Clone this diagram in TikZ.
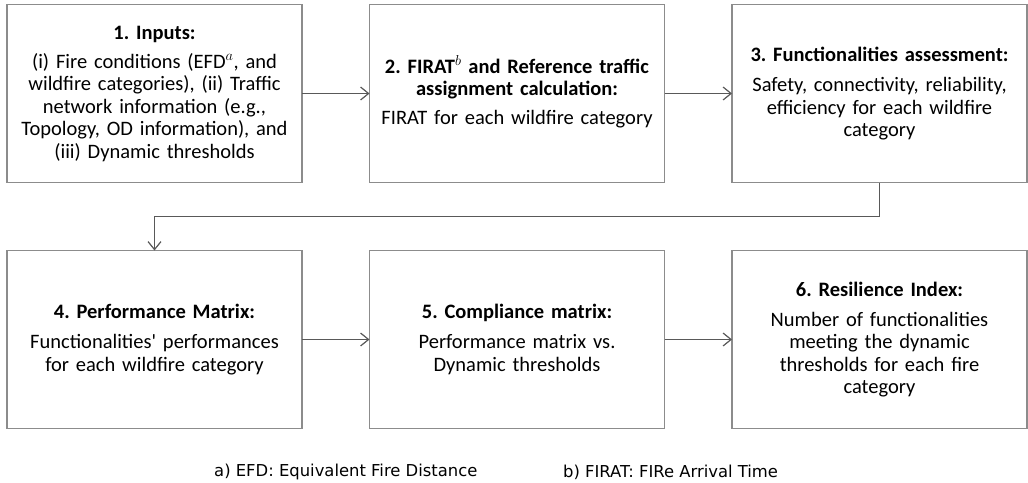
\documentclass[tikz,border=0pt]{standalone}
\usepackage{fontspec}
\setmainfont{Carlito}
\newfontfamily\notefont{DejaVu Sans}
\usepackage{xcolor}
\usepackage{tikz}
\usetikzlibrary{arrows.meta, positioning}
\frenchspacing
\newcommand{\boxfont}{\fontsize{20.5}{22.5}\selectfont\lineskiplimit=-100pt\relax}

\begin{document}
\begin{tikzpicture}[
        x=1pt, y=1pt,
        node distance=68pt and 67.5pt,
        box/.style={rectangle, draw=black!45, line width=1.2pt, text width=283pt, minimum height=178pt, inner xsep=6pt, outer sep=0pt, align=center, font=\boxfont},
        arrow/.style={-{Straight Barb[length=8pt, width=13pt]}, line width=1.2pt, draw=black!65},
        note/.style={anchor=west, inner sep=0pt, font=\notefont\fontsize{16.4}{18}\selectfont}
    ]

        \useasboundingbox (0,0) rectangle (1028,-482);

        \node[box] (inputs) at (154.5,-93.5) {\textbf{1. Inputs:}\\[6.5pt]
            (i) Fire conditions (EFD\smash{$^{a}$}, and\\
            wildfire categories), (ii) Traffic\\
            network information (e.g.,\\
            Topology, OD information), and\\
            (iii) Dynamic thresholds};
        \node[box, right=of inputs] (firat) {\textbf{2. FIRAT\smash{$^{b}$} and Reference traffic}\\
            \textbf{assignment calculation:}\\[6.5pt]
            FIRAT for each wildfire category};
        \node[box, right=of firat] (assess) {\textbf{3. Functionalities assessment:}\\[8pt]
            Safety, connectivity, reliability,\\
            efficiency for each wildfire\\
            category};

        \node[box, below=of inputs] (perf) {\textbf{4. Performance Matrix:}\\[7.5pt]
            Functionalities\textquotesingle\ performances\\
            for each wildfire category};
        \node[box, right=of perf] (comply) {\textbf{5. Compliance matrix:}\\[7.5pt]
            Performance matrix vs.\\
            Dynamic thresholds};
        \node[box, right=of comply] (index) {\textbf{6. Resilience Index:}\\[7.5pt]
            Number of functionalities\\
            meeting the dynamic\\
            thresholds for each fire\\
            category};

        \draw[arrow] (inputs) -- (firat);
        \draw[arrow] (firat) -- (assess);
        \draw[arrow] (assess.south) -- ++(0,-34) -| (perf.north);
        \draw[arrow] (perf) -- (comply);
        \draw[arrow] (comply) -- (index);

        % footnotes
        \node[note] (efdnote) at (214,-472) {a) EFD: Equivalent Fire Distance};
        \node[note] (firatnote) at (563,-472) {b) FIRAT: FIRe Arrival Time};

    \end{tikzpicture}
\end{document}
